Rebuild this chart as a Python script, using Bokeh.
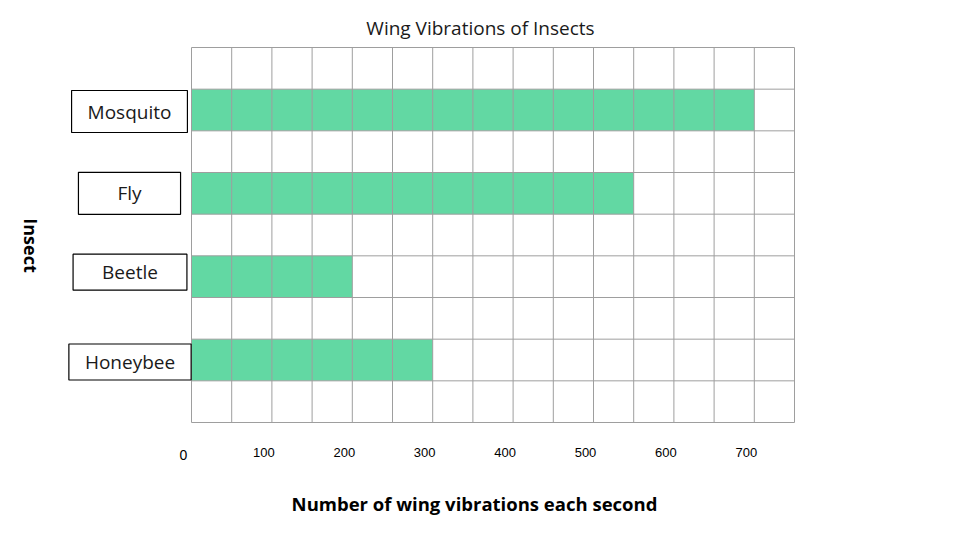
from bokeh.plotting import figure
from bokeh.models import Range1d, Label
from bokeh.embed import file_html
from bokeh.resources import INLINE
import math

# ---- data ----
insects = ["Mosquito", "Fly", "Beetle", "Honeybee"]
vibrations = [700, 550, 200, 300]
rows = [7.5, 5.5, 3.5, 1.5]          # row centre of each bar (9 grid rows)
tick_values = [0, 100, 200, 300, 400, 500, 600, 700]
tick_labels = ["0", "100", "200", "300", "400", "500", "600", "700"]
grid_x = list(range(0, 751, 50))
grid_y = list(range(0, 10))
title_text = "Wing Vibrations of Insects"
x_title = "Number of wing vibrations each second"
y_title = "Insect"

FONT = "Open Sans"
GRID = "#9e9e9e"
BAR = "#62d8a3"

# ---- layout (pixels) ----
W, H = 944, 524
PL, PR, PT, PB = 191, 794, 47, 422        # plot-area box on the canvas
XMAX, YMAX = 750, 9
ux = XMAX / (PR - PL)                      # data units per pixel
uy = YMAX / (PB - PT)

p = figure(width=W, height=H, output_backend="svg", toolbar_location=None,
           x_range=Range1d(-PL * ux, XMAX + (W - PR) * ux),
           y_range=Range1d(-(H - PB) * uy, YMAX + PT * uy),
           x_axis_location=None, y_axis_location=None,
           min_border=0)
p.outline_line_color = None
p.grid.visible = False

p.hbar(y=rows, right=vibrations, left=0, height=1.0,
       fill_color=BAR, line_color=None)

# grid drawn over the bars
p.segment(x0=grid_x, x1=grid_x, y0=[0] * len(grid_x), y1=[YMAX] * len(grid_x),
          line_color=GRID, line_width=1)
p.segment(x0=[0] * len(grid_y), x1=[XMAX] * len(grid_y), y0=grid_y, y1=grid_y,
          line_color=GRID, line_width=1)

# title
p.add_layout(Label(x=XMAX / 2, y=YMAX, text=title_text,
                   x_offset=-12.5, y_offset=19.5, text_align="center",
                   text_baseline="middle", text_font=FONT, text_font_size="19px",
                   text_color="#1a1a1a"))

# category boxes
box_dx = [-62, -62, -61.5, -61.5]
box_dy = [-1.5, 0, 4.5, -2]
box_pad = [(16, 8), (39, 8), (29, 5), (16, 5)]
for name, r, dx, dy, (ph, pv) in zip(insects, rows, box_dx, box_dy, box_pad):
    p.add_layout(Label(x=0, y=r, text=name,
                       x_offset=dx, y_offset=dy, text_align="center",
                       text_baseline="middle",
                       text_font=FONT, text_font_size="19px", text_color="#1a1a1a",
                       background_fill_color="white",
                       border_line_color="black", border_line_width=1.2,
                       padding=(ph, pv)))

# tick labels
for v, t in zip(tick_values, tick_labels):
    p.add_layout(Label(x=v, y=0, text=t,
                       x_offset=-8, y_offset=-32 if v == 0 else -30,
                       text_align="center", text_baseline="middle",
                       text_font="Liberation Sans",
                       text_font_size="14px" if v == 0 else "13px",
                       text_color="black"))

# axis titles
p.add_layout(Label(x=XMAX / 2, y=0, text=x_title,
                   x_offset=-18.5, y_offset=-81, text_align="center",
                   text_baseline="middle", text_font=FONT, text_font_style="bold",
                   text_font_size="18.5px", text_color="black"))
p.add_layout(Label(x=0, y=YMAX / 2, text=y_title,
                   x_offset=-161, y_offset=-10.5, angle=-math.pi / 2,
                   text_align="center", text_baseline="middle",
                   text_font=FONT, text_font_style="bold",
                   text_font_size="18px", text_color="black"))

open("out.html", "w").write(file_html(p, INLINE))
